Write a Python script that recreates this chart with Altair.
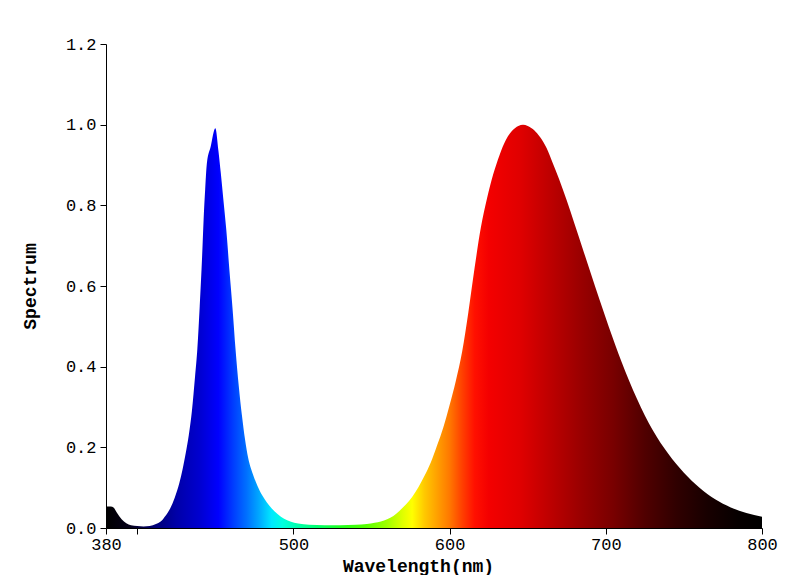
import altair as alt
import pandas as pd

# Wavelength (nm) and relative spectrum values
wavelength = [380, 383, 385, 387, 390, 393, 396, 400, 404, 408, 412, 415, 418, 421,
              424, 427, 429, 431, 433, 435, 437, 438.5, 440, 441.5, 442.5, 443.5,
              444.6, 447, 450, 452, 453.5, 455, 457, 459, 461, 463, 465, 467, 469,
              471, 474, 477, 480, 483, 486, 490, 494, 498, 503, 510, 520, 530, 540,
              547, 552, 556, 560, 564, 568, 572, 576, 580, 584, 588, 592, 596, 600,
              604, 608, 612, 616, 620, 624, 628, 632, 636, 640, 644, 647, 650, 654,
              658, 662, 666, 670, 675, 680, 685, 690, 696, 702, 710, 720, 730, 740,
              750, 760, 770, 780, 790, 800]
spectrum = [0.053, 0.053, 0.050, 0.038, 0.022, 0.012, 0.007, 0.005, 0.004, 0.005, 0.010,
            0.016, 0.030, 0.048, 0.075, 0.112, 0.145, 0.185, 0.230, 0.290, 0.375, 0.445,
            0.550, 0.670, 0.765, 0.840, 0.905, 0.945, 0.991, 0.935, 0.880, 0.820, 0.740,
            0.640, 0.545, 0.440, 0.352, 0.280, 0.220, 0.174, 0.134, 0.104, 0.081, 0.063,
            0.049, 0.034, 0.023, 0.016, 0.011, 0.008, 0.007, 0.007, 0.008, 0.010, 0.013,
            0.016, 0.022, 0.030, 0.043, 0.058, 0.077, 0.101, 0.130, 0.163, 0.205, 0.250,
            0.305, 0.365, 0.437, 0.535, 0.645, 0.745, 0.818, 0.878, 0.925, 0.962, 0.985,
            0.997, 1.000, 0.997, 0.987, 0.969, 0.943, 0.905, 0.866, 0.812, 0.754, 0.695,
            0.636, 0.566, 0.498, 0.413, 0.320, 0.243, 0.184, 0.137, 0.100, 0.071, 0.051,
            0.037, 0.028]

# Colour of the fill along the wavelength axis
stop_wavelength = [380, 395, 410, 425, 440, 452, 462, 470, 478, 486, 493, 505, 515, 530,
                   545, 560, 570, 576, 584, 592, 600, 608, 616, 625, 645, 665, 685, 705,
                   725, 745, 765, 785, 800]
stop_color = ["#000000", "#050018", "#000070", "#0000a8", "#0000d0", "#0000ff", "#0040ff",
              "#0070ff", "#00a8ff", "#00e8ff", "#00ffe0", "#00ffa0", "#00ff70", "#20ff20",
              "#50ff00", "#a0ff00", "#e0ff00", "#ffff00", "#ffc800", "#ffa000", "#ff7800",
              "#ff4000", "#ff1000", "#f40000", "#e00000", "#bc0000", "#980000", "#780000",
              "#500000", "#300000", "#180000", "#060000", "#000000"]

x_ticks = [380, 400, 500, 600, 700, 800]
y_ticks = [0.0, 0.2, 0.4, 0.6, 0.8, 1.0, 1.2]

df = pd.DataFrame({"wavelength": wavelength, "spectrum": spectrum})

lo, hi = min(stop_wavelength), max(stop_wavelength)
gradient = alt.Gradient(
    gradient="linear",
    stops=[alt.GradientStop(offset=(w - lo) / (hi - lo), color=c)
           for w, c in zip(stop_wavelength, stop_color)],
    x1=0, x2=1, y1=0, y2=0,
)

FONT = "Liberation Mono"

chart = alt.Chart(df).mark_area(color=gradient, line=False, interpolate="monotone").encode(
    x=alt.X(
        "wavelength:Q",
        scale=alt.Scale(domain=[380, 800], nice=False, zero=False),
        axis=alt.Axis(
            values=x_ticks,
            labelExpr="datum.value == 400 ? '' : datum.label",
            format="d",
            title="Wavelength(nm)",
            titleFont=FONT, titleFontSize=18, titleFontWeight="bold", titleColor="#000",
            titleX=312, titleY=38, titleAlign="center", titleBaseline="middle",
            labelFont=FONT, labelFontSize=17, labelColor="#000", labelPadding=2,
            labelFlush=False,
            tickSize=6, tickColor="#000", domainColor="#000", grid=False,
        ),
    ),
    y=alt.Y(
        "spectrum:Q",
        scale=alt.Scale(domain=[0, 1.2], nice=False),
        axis=alt.Axis(
            values=y_ticks,
            format=".1f",
            title="Spectrum",
            titleFont=FONT, titleFontSize=18, titleFontWeight="bold", titleColor="#000",
            titleX=-76, titleY=242, titleAlign="center", titleBaseline="middle",
            titleAngle=270,
            labelFont=FONT, labelFontSize=17, labelColor="#000", labelPadding=4,
            labelFlush=False,
            tickSize=6, tickColor="#000", domainColor="#000", grid=False,
        ),
    ),
).properties(
    width=656,
    height=484,
    padding={"left": 98, "top": 36, "right": 30, "bottom": 47},
    autosize=alt.AutoSizeParams(type="none"),
    background="white",
).configure_view(stroke=None)

chart.save("out.html", embed_options={"renderer": "svg", "actions": False})
